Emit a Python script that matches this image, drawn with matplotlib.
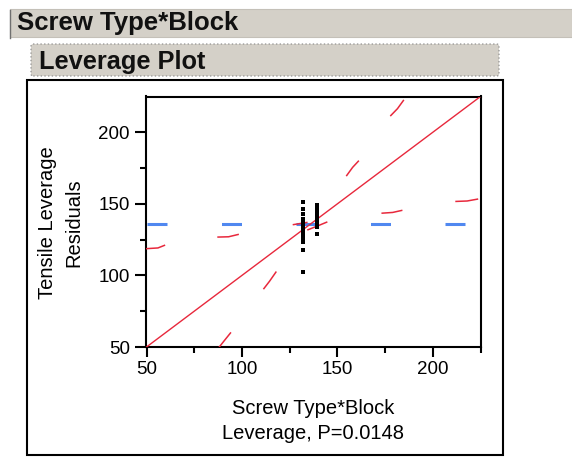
import numpy as np
import matplotlib.pyplot as plt
from matplotlib.patches import Rectangle, FancyBboxPatch

plt.rcParams['font.family'] = ['Liberation Sans', 'DejaVu Sans']
plt.rcParams['lines.scale_dashes'] = False

# ================================================================
# data
axis_min = 50.
axis_max = 225.
mean_resid = 135.8
p_value = '0.0148'

# black points (two leverage x positions)
col1_x = 132.1
col1_y = [151.2, 146.6, 143.1, 139.6, 137.8, 136.0, 134.2, 132.4, 130.6,
          128.8, 127.0, 125.2, 123.3, 118.0, 102.3]
col2_x = 139.1
col2_y = [148.9, 147.0, 145.1, 143.2, 141.3, 139.4, 137.5, 135.6, 133.7, 128.6]

# visible dashes of the confidence curves
upper_x = [[50.0, 56.0, 59.4], [87.5, 93.0, 98.0], [127.0, 134.0],
           [154.9, 158.0, 161.0], [178.0, 181.5, 184.6]]
upper_y = [[118.7, 119.2, 121.0], [126.8, 127.0, 128.6], [135.5, 137.0],
           [169.8, 175.5, 179.8], [211.7, 216.5, 222.2]]
lower_x = [[87.9, 90.5, 94.0], [111.5, 114.5, 117.8], [134.6, 139.5, 144.4],
           [173.5, 179.0, 183.7], [212.2, 218.0, 223.4]]
lower_y = [[49.6, 54.0, 59.8], [90.8, 96.0, 102.3], [131.9, 134.5, 137.2],
           [143.5, 144.0, 145.4], [151.7, 152.0, 153.3]]

# ================================================================
W, H = 572., 457.
fig = plt.figure(figsize=(W/100, H/100), dpi=100)
fig.patch.set_facecolor('white')

def fx(px):
    return px/W

def fy(py):
    return 1. - py/H

# outline header bars
gray = '#d4d0c8'
fig.add_artist(Rectangle((fx(10), fy(37)), fx(572)-fx(10), fy(9)-fy(37),
                         transform=fig.transFigure, facecolor=gray,
                         edgecolor='#c4c0b8', linewidth=0.8))
fig.add_artist(plt.Line2D([fx(9.5), fx(9.5)], [fy(10), fy(38)],
                          transform=fig.transFigure, color='#707070', lw=1.0))
fig.text(fx(17), fy(23), 'Screw Type*Block', fontsize=18.5, fontweight='bold',
         ha='left', va='center', color='#111111')

fig.add_artist(FancyBboxPatch((fx(31), fy(76)), fx(499)-fx(31), fy(44)-fy(76),
                              boxstyle='round,pad=0,rounding_size=0.004',
                              transform=fig.transFigure, facecolor=gray,
                              edgecolor='#8a8a8a', linewidth=0.8, linestyle=':'))
fig.text(fx(39), fy(62), 'Leverage Plot', fontsize=18.3, fontweight='bold',
         ha='left', va='center', color='#111111')

# plot frame
fig.add_artist(Rectangle((fx(27), fy(455)), fx(503)-fx(27), fy(80)-fy(455),
                         transform=fig.transFigure, facecolor='white',
                         edgecolor='black', linewidth=1.5, zorder=0))

# ================================================================
ax = fig.add_axes([fx(146.5), fy(347), fx(480.5)-fx(146.5), fy(96.5)-fy(347)])

red = '#e8283c'
blue = '#5088f0'

ax.plot([axis_min, axis_max], [mean_resid, mean_resid], color=blue, lw=2.2,
        linestyle=(0, (20*0.72, 54.5*0.72)), solid_capstyle='butt',
        dash_capstyle='butt', zorder=2)
ax.plot([axis_min, axis_max], [axis_min, axis_max], color=red, lw=1.0, zorder=3)
for i in range(0, len(upper_x)):
    ax.plot(upper_x[i], upper_y[i], color=red, lw=1.1, zorder=3)
for i in range(0, len(lower_x)):
    ax.plot(lower_x[i], lower_y[i], color=red, lw=1.1, zorder=3)

ax.plot([col1_x]*len(col1_y), col1_y, 's', color='black', ms=3.4, mew=0, zorder=4)
ax.plot([col2_x]*len(col2_y), col2_y, 's', color='black', ms=3.4, mew=0, zorder=4)

ax.set_xlim((axis_min, axis_max))
ax.set_ylim((axis_min, axis_max))
ax.set_xticks([50, 100, 150, 200])
ax.set_yticks([50, 100, 150, 200])
ax.set_xticks([75, 125, 175, 225], minor=True)
ax.set_yticks([75, 125, 175], minor=True)
ax.tick_params(which='major', length=7, width=1.5, labelsize=13.5, pad=3)
ax.tick_params(axis='y', which='major', length=8, pad=4)
ax.tick_params(which='minor', length=4, width=1.5)
for s in ax.spines.values():
    s.set_linewidth(1.5)

ax.set_xlabel('Screw Type*Block\nLeverage, P=' + p_value, fontsize=14.5,
              linespacing=1.4)
ax.xaxis.set_label_coords(0.5, -0.294)
ax.xaxis.label.set_va('center')
ax.set_ylabel('Tensile Leverage\nResiduals', fontsize=14.5, rotation=90,
              linespacing=1.5)
ax.yaxis.set_label_coords(-0.256, 0.495)
ax.yaxis.label.set_va('center')

plt.savefig('out.png', dpi=100)
